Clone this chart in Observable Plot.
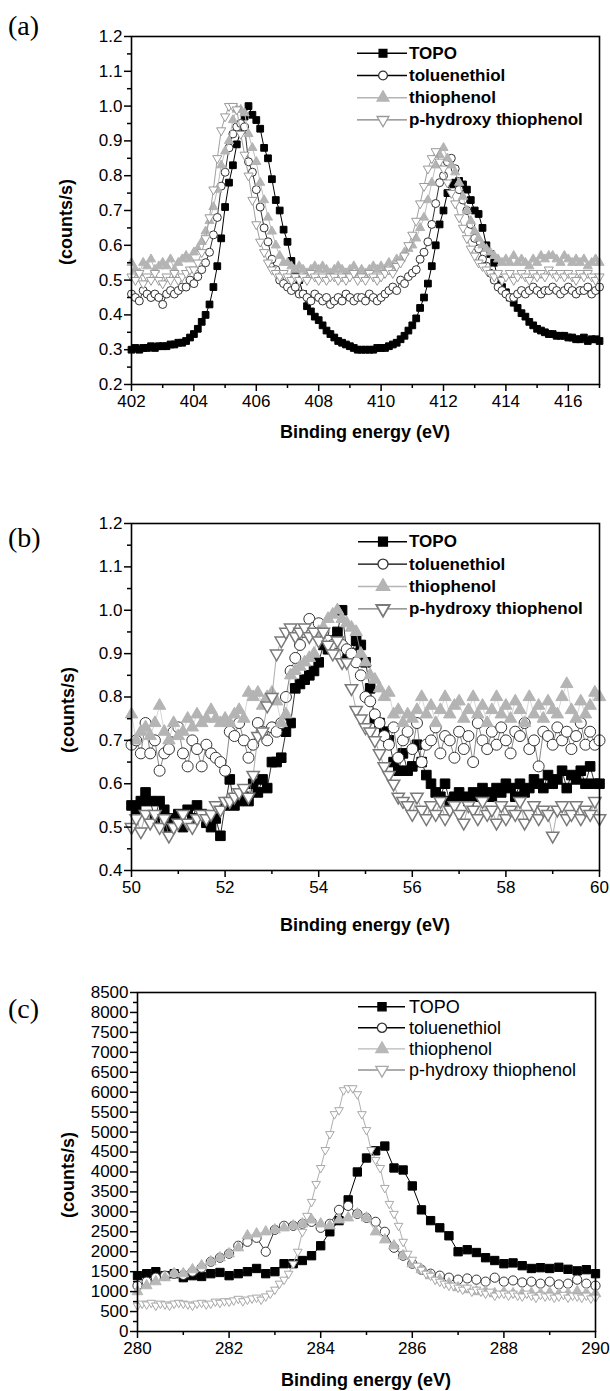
<!DOCTYPE html>
<html><head><meta charset="utf-8">
<script src="https://cdn.jsdelivr.net/npm/d3@7"></script>
<script src="https://cdn.jsdelivr.net/npm/@observablehq/plot@0.6"></script>
<style>
body{margin:0;background:#fff;}
#wrap{position:relative;width:610px;height:1391px;overflow:hidden;background:#fff;}
.pn{position:absolute;left:0;}
</style>
</head><body><div id="wrap"></div>
<script>
// ---------- data ----------
const seriesNames = ["TOPO", "toluenethiol", "thiophenol", "p-hydroxy thiophenol"];

// panel (a): 402 → 417 eV, step 0.125
const a_start = 402, a_step = 0.125;
const a_TOPO = [
0.300,0.305,0.300,0.305,0.305,0.310,0.305,0.310,
0.310,0.310,0.315,0.315,0.320,0.320,0.325,0.335,
0.345,0.360,0.380,0.400,0.430,0.480,0.540,0.620,
0.710,0.780,0.830,0.890,0.930,0.970,1.000,0.975,
0.960,0.935,0.880,0.850,0.790,0.730,0.700,0.645,
0.610,0.555,0.520,0.500,0.460,0.425,0.410,0.395,
0.385,0.370,0.355,0.345,0.335,0.325,0.320,0.315,
0.310,0.305,0.300,0.300,0.300,0.300,0.300,0.305,
0.305,0.305,0.310,0.315,0.320,0.330,0.340,0.355,
0.370,0.390,0.420,0.450,0.490,0.540,0.600,0.660,
0.700,0.750,0.775,0.780,0.785,0.775,0.760,0.730,
0.700,0.690,0.650,0.600,0.575,0.550,0.500,0.480,
0.465,0.450,0.435,0.420,0.405,0.395,0.380,0.370,
0.360,0.355,0.350,0.345,0.345,0.340,0.340,0.340,
0.335,0.335,0.330,0.330,0.335,0.325,0.330,0.330,
0.325];
const a_toluenethiol = [
0.46,0.45,0.44,0.47,0.46,0.45,0.46,0.45,
0.43,0.46,0.47,0.46,0.47,0.48,0.48,0.50,
0.49,0.51,0.53,0.55,0.58,0.63,0.68,0.77,
0.81,0.88,0.92,0.94,0.95,0.94,0.84,0.81,
0.76,0.71,0.65,0.61,0.56,0.53,0.50,0.49,
0.48,0.47,0.48,0.46,0.46,0.45,0.44,0.46,
0.45,0.44,0.45,0.43,0.44,0.45,0.44,0.46,
0.45,0.44,0.45,0.45,0.44,0.46,0.45,0.44,
0.45,0.46,0.47,0.48,0.47,0.50,0.49,0.51,
0.52,0.53,0.56,0.58,0.61,0.66,0.72,0.78,
0.80,0.84,0.85,0.82,0.76,0.73,0.70,0.66,
0.62,0.59,0.56,0.54,0.52,0.50,0.48,0.47,
0.46,0.45,0.45,0.46,0.47,0.46,0.47,0.48,
0.47,0.46,0.47,0.47,0.48,0.47,0.46,0.47,
0.48,0.47,0.46,0.47,0.47,0.48,0.46,0.47,
0.48];
const a_thiophenol = [
0.55,0.53,0.52,0.55,0.54,0.56,0.53,0.54,
0.55,0.54,0.56,0.53,0.55,0.56,0.57,0.56,
0.58,0.59,0.61,0.64,0.67,0.71,0.76,0.83,
0.87,0.90,0.96,0.99,0.99,0.98,0.92,0.88,
0.84,0.78,0.73,0.68,0.64,0.60,0.57,0.55,
0.55,0.54,0.53,0.54,0.53,0.52,0.53,0.54,
0.53,0.54,0.53,0.52,0.53,0.54,0.53,0.52,
0.53,0.54,0.52,0.53,0.52,0.53,0.54,0.53,
0.54,0.53,0.55,0.54,0.56,0.56,0.58,0.59,
0.60,0.62,0.65,0.68,0.73,0.78,0.83,0.86,
0.88,0.85,0.83,0.81,0.78,0.74,0.70,0.67,
0.64,0.62,0.60,0.59,0.58,0.57,0.56,0.55,
0.56,0.55,0.57,0.55,0.56,0.55,0.54,0.56,
0.55,0.57,0.56,0.57,0.57,0.56,0.55,0.57,
0.56,0.55,0.56,0.55,0.56,0.54,0.55,0.56,
0.55];
const a_phydroxy = [
0.51,0.50,0.52,0.49,0.51,0.50,0.52,0.50,
0.49,0.51,0.50,0.52,0.50,0.51,0.52,0.53,
0.53,0.55,0.58,0.62,0.68,0.76,0.85,0.93,
0.97,1.00,1.00,0.99,0.92,0.86,0.80,0.73,
0.66,0.61,0.58,0.55,0.53,0.52,0.51,0.52,
0.51,0.50,0.51,0.50,0.51,0.50,0.52,0.51,
0.50,0.51,0.50,0.51,0.51,0.50,0.51,0.50,
0.51,0.52,0.50,0.51,0.50,0.52,0.51,0.50,
0.51,0.52,0.53,0.52,0.54,0.55,0.57,0.60,
0.63,0.67,0.72,0.77,0.82,0.85,0.87,0.84,
0.82,0.78,0.75,0.72,0.68,0.65,0.62,0.59,
0.57,0.55,0.54,0.53,0.52,0.51,0.52,0.50,
0.51,0.52,0.50,0.51,0.52,0.51,0.50,0.52,
0.51,0.52,0.51,0.53,0.52,0.51,0.52,0.51,
0.52,0.51,0.50,0.52,0.51,0.52,0.51,0.50,
0.51];
const a_xTicks = [402,404,406,408,410,412,414,416];
const a_xMinor = [403,405,407,409,411,413,415,417];
const a_yTicks = [0.2,0.3,0.4,0.5,0.6,0.7,0.8,0.9,1.0,1.1,1.2];
const a_yMinor = [0.25,0.35,0.45,0.55,0.65,0.75,0.85,0.95,1.05,1.15];

// panel (b): 50 → 60 eV, step 0.1
const b_start = 50, b_step = 0.1;
const b_TOPO = [
0.55,0.54,0.56,0.58,0.56,0.52,0.56,0.54,0.50,0.52,
0.53,0.50,0.54,0.52,0.55,0.53,0.51,0.50,0.52,0.48,
0.55,0.61,0.55,0.56,0.57,0.56,0.60,0.58,0.61,0.59,
0.65,0.65,0.66,0.72,0.74,0.82,0.83,0.84,0.85,0.86,
0.88,0.92,0.91,0.93,0.95,1.00,0.90,0.90,0.93,0.92,
0.88,0.82,0.75,0.74,0.72,0.70,0.65,0.63,0.67,0.63,
0.64,0.69,0.65,0.62,0.60,0.58,0.57,0.60,0.56,0.57,
0.58,0.57,0.56,0.58,0.57,0.59,0.58,0.57,0.59,0.58,
0.60,0.59,0.57,0.60,0.58,0.59,0.61,0.60,0.59,0.62,
0.60,0.61,0.63,0.59,0.62,0.61,0.63,0.60,0.64,0.60,
0.60];
const b_toluenethiol = [
0.69,0.70,0.67,0.74,0.67,0.70,0.63,0.67,0.68,0.72,
0.73,0.67,0.64,0.70,0.68,0.64,0.69,0.67,0.66,0.65,
0.63,0.72,0.71,0.74,0.70,0.66,0.69,0.74,0.72,0.70,
0.73,0.72,0.74,0.80,0.86,0.89,0.92,0.95,0.98,0.96,
0.97,0.95,0.93,0.92,0.90,0.92,0.91,0.90,0.88,0.85,
0.80,0.79,0.76,0.74,0.71,0.69,0.73,0.66,0.70,0.72,
0.68,0.74,0.65,0.69,0.70,0.73,0.67,0.71,0.70,0.66,
0.72,0.68,0.71,0.65,0.74,0.70,0.68,0.72,0.69,0.73,
0.70,0.67,0.72,0.71,0.74,0.68,0.70,0.64,0.72,0.71,
0.69,0.73,0.70,0.72,0.68,0.71,0.74,0.69,0.72,0.69,
0.70];
const b_thiophenol = [
0.76,0.70,0.72,0.73,0.71,0.74,0.78,0.72,0.70,0.74,
0.71,0.72,0.75,0.73,0.76,0.74,0.75,0.77,0.75,0.74,
0.75,0.74,0.76,0.77,0.75,0.81,0.80,0.81,0.78,0.80,
0.81,0.79,0.74,0.76,0.85,0.86,0.87,0.88,0.89,0.90,
0.95,0.96,0.98,0.99,1.00,0.98,0.97,0.96,0.95,0.90,
0.88,0.85,0.84,0.82,0.80,0.81,0.76,0.77,0.74,0.76,
0.75,0.77,0.80,0.76,0.78,0.74,0.77,0.80,0.76,0.78,
0.79,0.75,0.77,0.80,0.76,0.78,0.74,0.77,0.80,0.76,
0.78,0.75,0.79,0.77,0.74,0.80,0.76,0.78,0.75,0.79,
0.77,0.76,0.80,0.83,0.77,0.75,0.79,0.76,0.78,0.81,
0.80];
const b_phydroxy = [
0.50,0.52,0.49,0.53,0.51,0.53,0.50,0.52,0.48,0.50,
0.51,0.53,0.51,0.50,0.52,0.53,0.52,0.53,0.55,0.54,
0.56,0.56,0.57,0.58,0.59,0.57,0.62,0.71,0.72,0.78,
0.80,0.90,0.93,0.95,0.96,0.94,0.95,0.96,0.94,0.95,
0.93,0.95,0.92,0.90,0.93,0.88,0.88,0.82,0.77,0.75,
0.73,0.72,0.70,0.67,0.64,0.62,0.60,0.57,0.56,0.55,
0.53,0.57,0.54,0.52,0.55,0.53,0.56,0.52,0.54,0.55,
0.53,0.51,0.55,0.54,0.52,0.56,0.53,0.54,0.51,0.55,
0.52,0.54,0.53,0.56,0.51,0.53,0.55,0.52,0.54,0.53,
0.48,0.54,0.55,0.52,0.53,0.55,0.52,0.54,0.53,0.56,
0.52];
const b_xTicks = [50,52,54,56,58,60];
const b_xMinor = [51,53,55,57,59];
const b_yTicks = [0.4,0.5,0.6,0.7,0.8,0.9,1.0,1.1,1.2];
const b_yMinor = [0.45,0.55,0.65,0.75,0.85,0.95,1.05,1.15];

// panel (c): 280 → 290 eV
const c_start = 280, c_stepCoarse = 0.2, c_stepFine = 0.1;
const c_TOPO = [
1400,1450,1500,1400,1450,1350,1400,1380,1450,1480,
1400,1450,1500,1580,1450,1500,1700,1700,1780,1900,
2150,2500,2780,3300,4000,4350,4530,4650,4100,4050,
3650,3050,2780,2600,2400,2000,2050,1980,1850,1780,
1700,1720,1650,1580,1600,1580,1610,1560,1520,1550,
1450];
const c_toluenethiol = [
1150,1250,1350,1400,1450,1420,1500,1600,1750,1850,
1950,2150,2250,2350,2000,2550,2650,2650,2700,2750,
2600,2700,3050,3150,2950,2850,2750,2500,2100,1900,
1700,1550,1450,1400,1350,1300,1330,1300,1250,1350,
1250,1280,1230,1250,1200,1250,1180,1200,1300,1200,
1150];
const c_thiophenol = [
1000,1150,1250,1350,1450,1450,1550,1650,1750,1850,
1950,2100,2400,2450,2500,2550,2600,2650,2700,2800,
2700,2650,2800,2850,2950,2850,2500,2300,2150,1900,
1700,1550,1400,1300,1200,1100,1050,1000,1000,950,
980,950,950,960,950,970,940,950,1000,960,
950];
const c_phydroxy = [
650,700,680,720,650,700,680,650,700,720,
700,680,650,700,720,680,700,750,720,760,
750,780,820,760,800,830,850,800,880,950,
1050,1200,1300,1450,1700,2000,2500,2900,3250,3700,
4100,4550,4950,5450,5550,6050,6100,6100,5950,5450,
5050,4550,4300,4100,3600,3200,2950,2650,2250,1950,
1800,1650,1550,1450,1400,1300,1250,1200,1150,1150,
1100,1050,1100,1000,1050,1000,950,1000,900,950,
950,900,950,900,880,950,900,850,920,880,
900,850,880,920,850,900,880,850,900,830,
850];
const c_xTicks = [280,282,284,286,288,290];
const c_xMinor = [281,283,285,287,289];
const c_yTicks = [0,500,1000,1500,2000,2500,3000,3500,4000,4500,5000,5500,6000,6500,7000,7500,8000,8500];
const c_yMinor = [250,750,1250,1750,2250,2750,3250,3750,4250,4750,5250,5750,6250,6750,7250,7750,8250];

// ---------- drawing ----------
const S3 = Math.sqrt(3);
const triangleDown = {draw(ctx, size) {
  const y = -Math.sqrt(size / (S3 * 3));
  ctx.moveTo(0, -2 * y); ctx.lineTo(-S3 * y, y); ctx.lineTo(S3 * y, y); ctx.closePath();
}};
const symbolMap = {square: d3.symbolSquare, circle: d3.symbolCircle, triangle: d3.symbolTriangle, triangleDown};
const SANS = "'Liberation Sans', Arial, sans-serif";

function rows(values, start, step) {
  return values.map((v, i) => ({e: start + i * step, v}));
}

const wrap = document.getElementById("wrap");

function makePanel(cfg) {
  const marks = [];
  cfg.series.forEach(s => {
    const data = rows(s.values, s.start, s.step);
    marks.push(Plot.line(data, {x: "e", y: "v", stroke: s.line, strokeWidth: s.lw}));
    marks.push(Plot.dot(data, {x: "e", y: "v", symbol: s.symbol === "triangleDown" ? triangleDown : s.symbol,
      r: s.r, fill: s.fill, stroke: s.stroke, strokeWidth: s.sw}));
  });
  marks.push(Plot.axisX({ticks: cfg.xTicks, tickSize: 7, tickPadding: 3, strokeWidth: 1.5, label: null,
    tickFormat: d => String(d), fontSize: cfg.tickFont, fontFamily: SANS}));
  marks.push(Plot.axisX({ticks: cfg.xMinor, tickSize: 4, strokeWidth: 1.5, fill: "none", label: null}));
  marks.push(Plot.axisY({ticks: cfg.yTicks, tickSize: 7, tickPadding: 2, strokeWidth: 1.5, label: null,
    tickFormat: cfg.yFormat, fontSize: cfg.tickFont, fontFamily: SANS}));
  marks.push(Plot.axisY({ticks: cfg.yMinor, tickSize: 4, strokeWidth: 1.5, fill: "none", label: null}));
  marks.push(Plot.frame({stroke: "#000", strokeWidth: 1.6}));

  const svg = Plot.plot({
    width: 610, height: cfg.height,
    marginLeft: cfg.ml, marginRight: cfg.mr, marginTop: cfg.mt, marginBottom: cfg.mb,
    x: {domain: cfg.xDomain, label: null},
    y: {domain: cfg.yDomain, label: null},
    style: {fontFamily: SANS, fontSize: cfg.tickFont + "px", color: "#000", background: "transparent", overflow: "visible"},
    marks
  });
  const holder = document.createElement("div");
  holder.className = "pn";
  holder.style.top = cfg.top + "px";
  holder.appendChild(svg);
  wrap.appendChild(holder);

  const g = d3.select(svg).append("g").attr("font-family", SANS).attr("text-anchor", "start").attr("fill", "#000");
  // panel label
  g.append("text").attr("x", cfg.lab[0]).attr("y", cfg.lab[1]).attr("dominant-baseline", "central")
    .attr("text-anchor", "start")
    .attr("font-family", "'Liberation Serif', 'Times New Roman', serif").attr("font-size", 28).text(cfg.label);
  // y title
  g.append("text").attr("transform", `translate(${cfg.yt[0]},${cfg.yt[1]}) rotate(-90)`)
    .attr("text-anchor", "middle").attr("dominant-baseline", "central")
    .attr("font-weight", "bold").attr("font-size", 18).text("(counts/s)");
  // x title
  g.append("text").attr("x", cfg.xt[0]).attr("y", cfg.xt[1]).attr("text-anchor", "middle")
    .attr("dominant-baseline", "central").attr("font-weight", "bold").attr("font-size", 18)
    .text("Binding energy (eV)");
  // legend
  const L = cfg.legend;
  cfg.series.forEach((s, i) => {
    const y = L.y0 + i * L.dy;
    g.append("line").attr("x1", L.x0).attr("x2", L.x1).attr("y1", y).attr("y2", y)
      .attr("stroke", s.legLine).attr("stroke-width", 1.4);
    g.append("path").attr("transform", `translate(${L.xm},${y})`)
      .attr("d", d3.symbol(symbolMap[s.symbol], Math.PI * L.r * L.r)())
      .attr("fill", s.fill).attr("stroke", s.stroke).attr("stroke-width", s.sw + 0.3);
    g.append("text").attr("x", L.xt).attr("y", y).attr("dominant-baseline", "central")
      .attr("text-anchor", "start")
      .attr("font-size", L.font).attr("font-weight", L.weight).text(seriesNames[i]);
  });
}

// panel (a)
makePanel({
  top: 0, height: 450, ml: 131, mr: 11, mt: 36, mb: 66,
  xDomain: [402, 417], yDomain: [0.2, 1.2],
  xTicks: a_xTicks, xMinor: a_xMinor, yTicks: a_yTicks, yMinor: a_yMinor,
  yFormat: d3.format(".1f"), tickFont: 17,
  label: "(a)", lab: [8, 25], yt: [66, 222], xt: [365, 432],
  legend: {x0: 357, x1: 407, xm: 383, xt: 409, y0: 53.3, dy: 22.2, r: 4.4, font: 17, weight: "bold"},
  series: [
    {values: a_TOPO, start: a_start, step: a_step, symbol: "square", r: 3.8, fill: "#000", stroke: "#000", sw: 1, line: "#000", lw: 1, legLine: "#000"},
    {values: a_toluenethiol, start: a_start, step: a_step, symbol: "circle", r: 4, fill: "#fff", stroke: "#333", sw: 1, line: "#333", lw: 1, legLine: "#000"},
    {values: a_thiophenol, start: a_start, step: a_step, symbol: "triangle", r: 3.4, fill: "#b4b4b4", stroke: "#b4b4b4", sw: 1, line: "#bdbdbd", lw: 1, legLine: "#b4b4b4"},
    {values: a_phydroxy, start: a_start, step: a_step, symbol: "triangleDown", r: 3.4, fill: "#fff", stroke: "#9a9a9a", sw: 1, line: "#a0a0a0", lw: 1, legLine: "#808080"}
  ]
});

// panel (b)
makePanel({
  top: 455, height: 480, ml: 131, mr: 11, mt: 68, mb: 65,
  xDomain: [50, 60], yDomain: [0.4, 1.2],
  xTicks: b_xTicks, xMinor: b_xMinor, yTicks: b_yTicks, yMinor: b_yMinor,
  yFormat: d3.format(".1f"), tickFont: 17,
  label: "(b)", lab: [8, 82], yt: [68, 255], xt: [365, 470],
  legend: {x0: 358, x1: 407, xm: 383, xt: 409, y0: 86.7, dy: 22.4, r: 5, font: 17, weight: "bold"},
  series: [
    {values: b_TOPO, start: b_start, step: b_step, symbol: "square", r: 5.4, fill: "#000", stroke: "#000", sw: 1, line: "#000", lw: 0.8, legLine: "#000"},
    {values: b_toluenethiol, start: b_start, step: b_step, symbol: "circle", r: 5.5, fill: "#fff", stroke: "#333", sw: 1, line: "#555", lw: 0.7, legLine: "#000"},
    {values: b_thiophenol, start: b_start, step: b_step, symbol: "triangle", r: 4.6, fill: "#b4b4b4", stroke: "#b4b4b4", sw: 1, line: "#c4c4c4", lw: 0.7, legLine: "#b4b4b4"},
    {values: b_phydroxy, start: b_start, step: b_step, symbol: "triangleDown", r: 4.6, fill: "#fff", stroke: "#7a7a7a", sw: 1.5, line: "#8a8a8a", lw: 0.7, legLine: "#7a7a7a"}
  ]
});

// panel (c)
makePanel({
  top: 940, height: 451, ml: 137, mr: 15, mt: 52, mb: 60,
  xDomain: [280, 290], yDomain: [0, 8500],
  xTicks: c_xTicks, xMinor: c_xMinor, yTicks: c_yTicks, yMinor: c_yMinor,
  yFormat: d => String(d), tickFont: 17,
  label: "(c)", lab: [8, 68], yt: [68, 235], xt: [366, 440],
  legend: {x0: 358, x1: 405, xm: 382, xt: 409, y0: 66.7, dy: 21.1, r: 4.6, font: 18, weight: "normal"},
  series: [
    {values: c_TOPO, start: c_start, step: c_stepCoarse, symbol: "square", r: 4.7, fill: "#000", stroke: "#000", sw: 1, line: "#000", lw: 1, legLine: "#000"},
    {values: c_toluenethiol, start: c_start, step: c_stepCoarse, symbol: "circle", r: 4.6, fill: "#fff", stroke: "#333", sw: 1, line: "#333", lw: 1, legLine: "#000"},
    {values: c_thiophenol, start: c_start, step: c_stepCoarse, symbol: "triangle", r: 4, fill: "#b8b8b8", stroke: "#b8b8b8", sw: 1, line: "#c0c0c0", lw: 1, legLine: "#b8b8b8"},
    {values: c_phydroxy, start: c_start, step: c_stepFine, symbol: "triangleDown", r: 3.2, fill: "#fff", stroke: "#a8a8a8", sw: 1, line: "#b0b0b0", lw: 1, legLine: "#909090"}
  ]
});
</script>
</body></html>
